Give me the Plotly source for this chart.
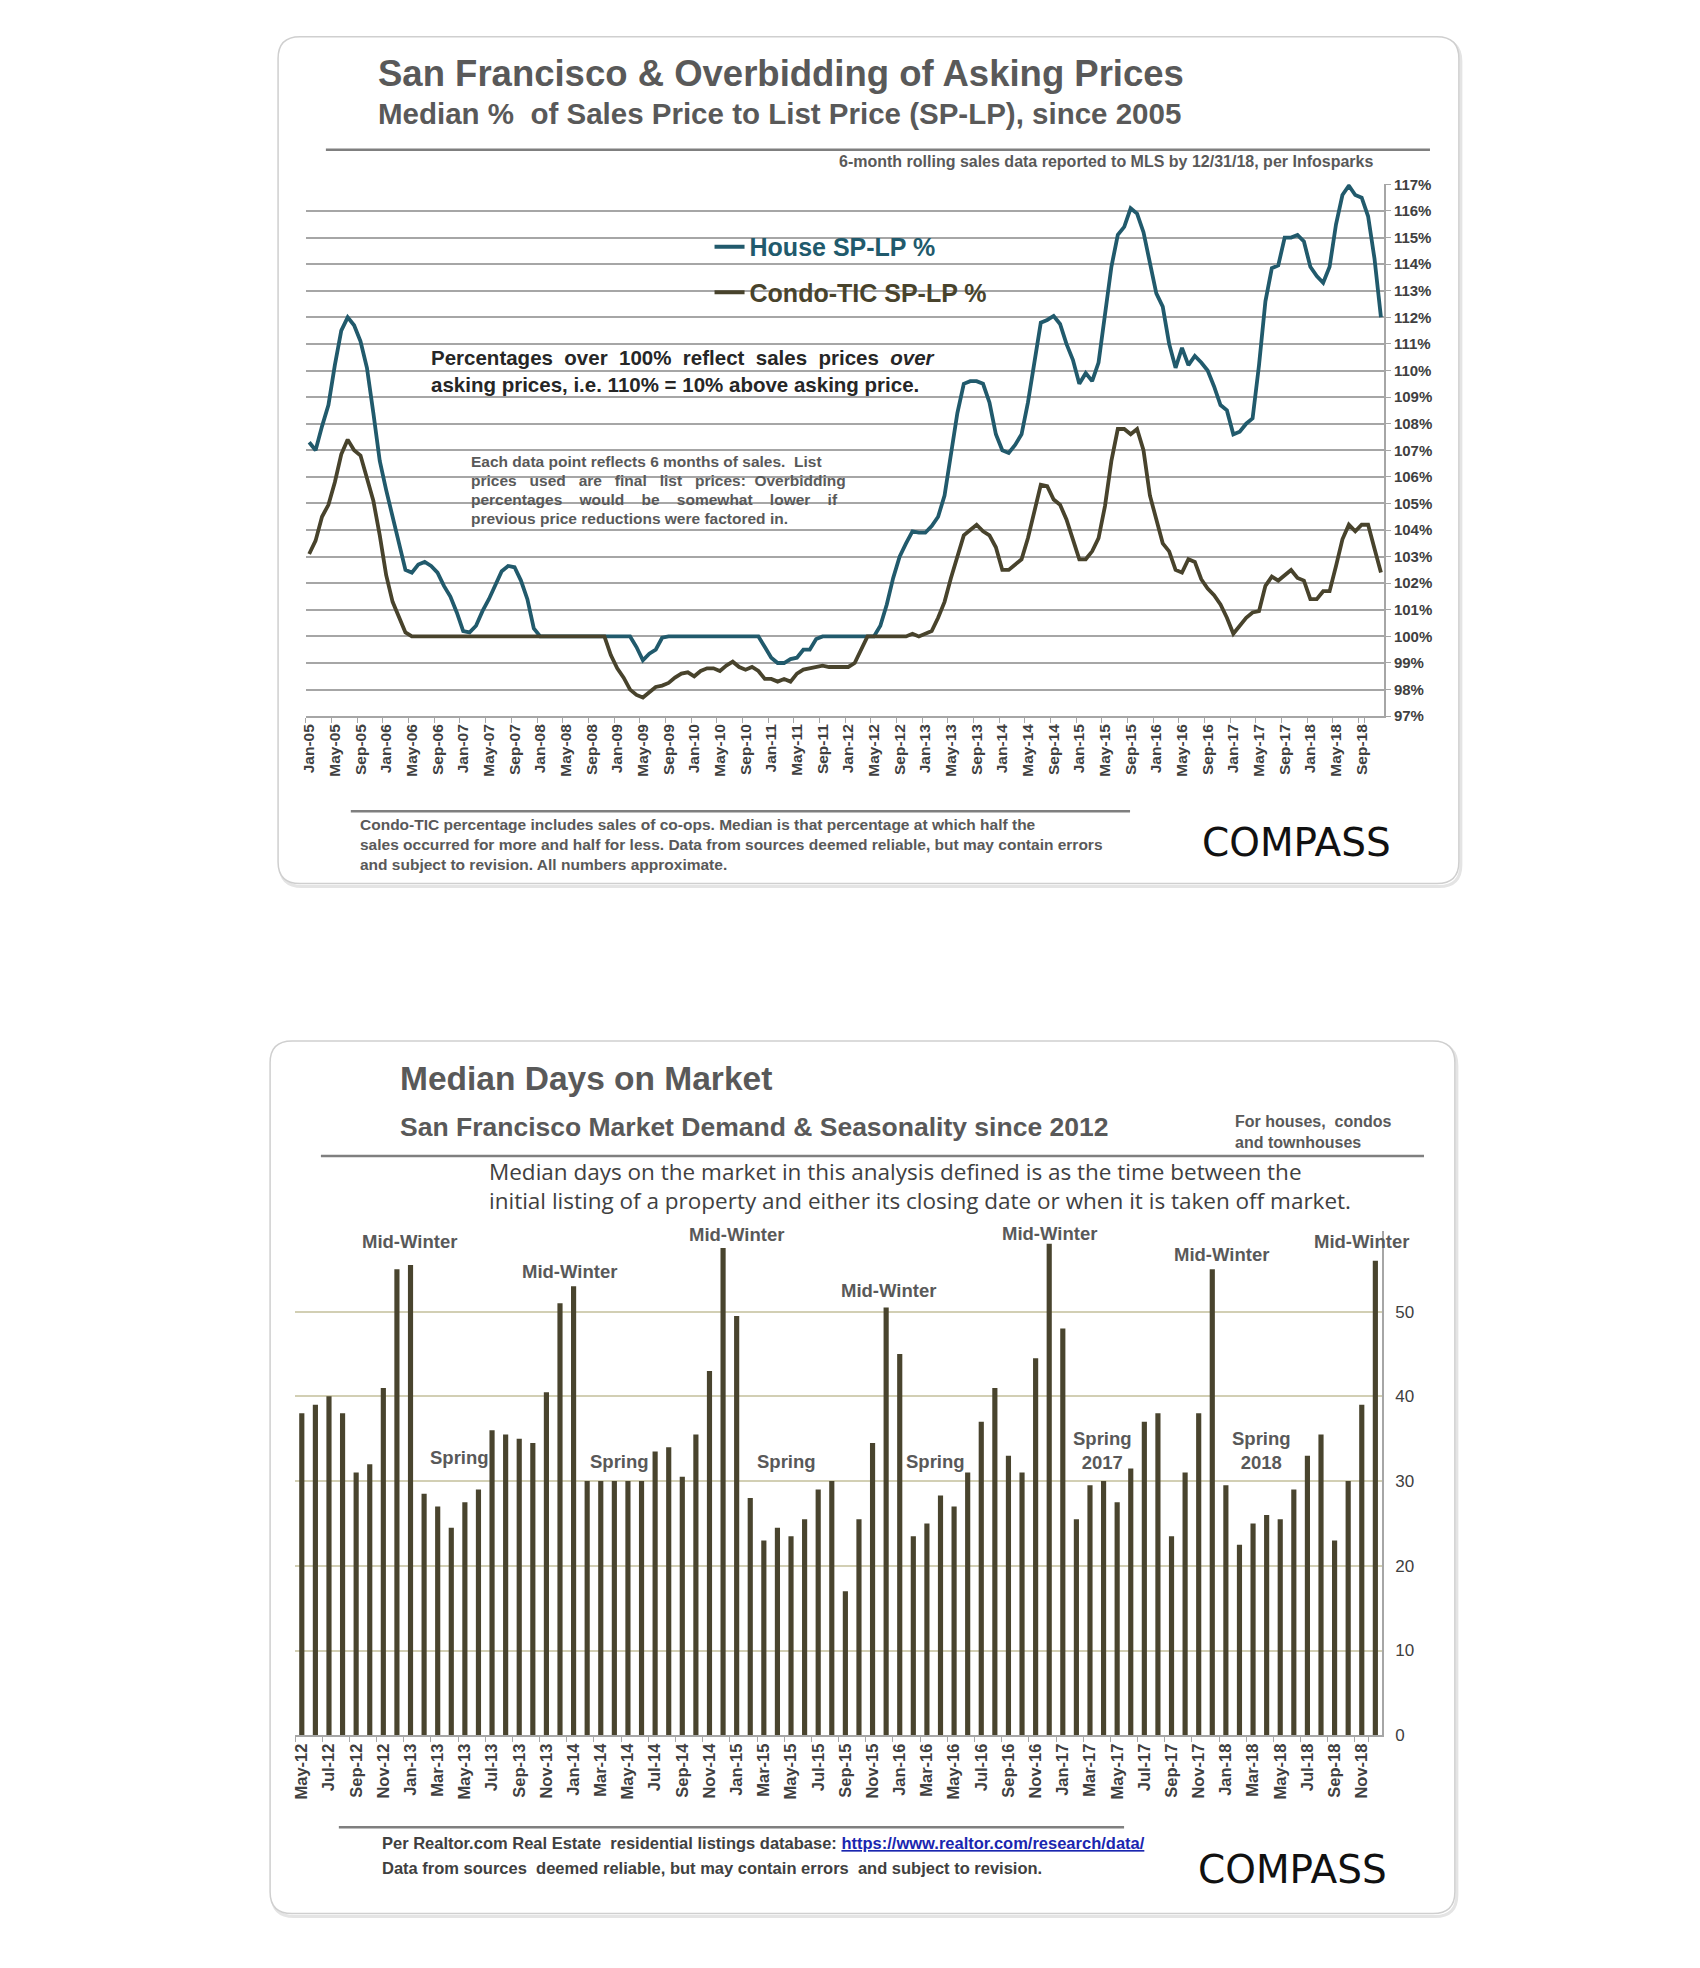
import pandas as pd
import plotly.graph_objects as go

W, H = 1700, 1968

# ---------------- DATA ----------------
months_top = list(pd.date_range("2005-01-01", periods=168, freq="MS").strftime("%b-%y"))
top_ticks = months_top[::4]

house_sp_lp = [
    107.3, 107.0, 107.9, 108.7, 110.2, 111.5, 112.0, 111.7, 111.1, 110.1, 108.4, 106.6,   # 2005
    105.5, 104.5, 103.5, 102.5, 102.4, 102.7, 102.8, 102.65, 102.4, 101.9, 101.5, 100.9,  # 2006
    100.2, 100.15, 100.4, 100.95, 101.4, 101.9, 102.45, 102.65, 102.6, 102.1, 101.4, 100.3,  # 2007
    100.0, 100.0, 100.0, 100.0, 100.0, 100.0, 100.0, 100.0, 100.0, 100.0, 100.0, 100.0,  # 2008
    100.0, 100.0, 100.0, 99.6, 99.1, 99.35, 99.5, 99.95, 100.0, 100.0, 100.0, 100.0,      # 2009
    100.0, 100.0, 100.0, 100.0, 100.0, 100.0, 100.0, 100.0, 100.0, 100.0, 100.0, 99.6,    # 2010
    99.2, 99.0, 99.0, 99.15, 99.2, 99.5, 99.5, 99.9, 100.0, 100.0, 100.0, 100.0,          # 2011
    100.0, 100.0, 100.0, 100.0, 100.0, 100.4, 101.2, 102.2, 103.0, 103.5, 103.95, 103.9,  # 2012
    103.9, 104.15, 104.5, 105.3, 106.8, 108.4, 109.5, 109.6, 109.6, 109.5, 108.8, 107.6,  # 2013
    107.0, 106.9, 107.2, 107.6, 108.8, 110.4, 111.8, 111.9, 112.05, 111.75, 111.0, 110.4,  # 2014
    109.5, 109.9, 109.6, 110.3, 112.0, 113.9, 115.1, 115.4, 116.1, 115.9, 115.2, 114.1,   # 2015
    112.9, 112.4, 111.0, 110.1, 110.85, 110.2, 110.55, 110.3, 110.0, 109.4, 108.7, 108.5,  # 2016
    107.6, 107.7, 108.0, 108.2, 110.2, 112.6, 113.85, 113.95, 115.0, 115.0, 115.1, 114.85,  # 2017
    113.9, 113.55, 113.3, 113.9, 115.5, 116.6, 116.95, 116.6, 116.5, 115.8, 114.2, 112.0,  # 2018
]

condo_tic_sp_lp = [
    103.1, 103.6, 104.5, 104.95, 105.8, 106.85, 107.4, 107.0, 106.8, 106.0, 105.1, 103.8,  # 2005
    102.3, 101.3, 100.7, 100.15, 100.0, 100.0, 100.0, 100.0, 100.0, 100.0, 100.0, 100.0,   # 2006
    100.0, 100.0, 100.0, 100.0, 100.0, 100.0, 100.0, 100.0, 100.0, 100.0, 100.0, 100.0,    # 2007
    100.0, 100.0, 100.0, 100.0, 100.0, 100.0, 100.0, 100.0, 100.0, 100.0, 100.0, 99.3,     # 2008
    98.8, 98.45, 98.0, 97.8, 97.7, 97.9, 98.1, 98.15, 98.25, 98.45, 98.6, 98.65,           # 2009
    98.5, 98.7, 98.8, 98.8, 98.7, 98.9, 99.05, 98.85, 98.75, 98.85, 98.7, 98.4,            # 2010
    98.4, 98.3, 98.4, 98.3, 98.6, 98.75, 98.8, 98.85, 98.9, 98.85, 98.85, 98.85,           # 2011
    98.85, 99.0, 99.5, 100.0, 100.0, 100.0, 100.0, 100.0, 100.0, 100.0, 100.1, 100.0,      # 2012
    100.1, 100.2, 100.7, 101.3, 102.2, 103.0, 103.8, 104.0, 104.2, 103.95, 103.8, 103.35,  # 2013
    102.5, 102.5, 102.7, 102.9, 103.7, 104.7, 105.7, 105.65, 105.15, 104.95, 104.4, 103.65,  # 2014
    102.9, 102.9, 103.2, 103.7, 104.9, 106.6, 107.8, 107.8, 107.6, 107.8, 107.0, 105.3,   # 2015
    104.4, 103.5, 103.2, 102.5, 102.4, 102.9, 102.8, 102.15, 101.8, 101.55, 101.2, 100.7,  # 2016
    100.1, 100.4, 100.7, 100.9, 100.95, 101.9, 102.25, 102.1, 102.3, 102.5, 102.2, 102.1,  # 2017
    101.4, 101.4, 101.7, 101.7, 102.65, 103.65, 104.2, 103.95, 104.2, 104.2, 103.3, 102.4,  # 2018
]

months_bottom = list(pd.date_range("2012-05-01", periods=80, freq="MS").strftime("%b-%y"))
bottom_ticks = months_bottom[::2]

median_dom = [
    38, 39, 40, 38, 31, 32, 41, 55, 55.5, 28.5, 27, 24.5,
    27.5, 29, 36, 35.5, 35, 34.5, 40.5, 51, 53, 30, 30, 30,
    30, 30, 33.5, 34, 30.5, 35.5, 43, 57.5, 49.5, 28, 23, 24.5,
    23.5, 25.5, 29, 30, 17, 25.5, 34.5, 50.5, 45, 23.5, 25, 28.3,
    27, 31, 37, 41, 33, 31, 44.5, 58, 48, 25.5, 29.5, 30,
    27.5, 31.5, 37, 38, 23.5, 31, 38, 55, 29.5, 22.5, 25, 26,
    25.5, 29, 33, 35.5, 23, 30, 39, 56,
]

season_labels = ["Mid-Winter", "Spring", "Mid-Winter", "Spring", "Mid-Winter", "Spring",
                 "Mid-Winter", "Spring", "Mid-Winter", "Spring<br>2017", "Mid-Winter",
                 "Spring<br>2018", "Mid-Winter"]
season_x = [7.9, 11.6, 19.7, 23.4, 32.0, 35.7, 43.2, 46.6, 55.0, 58.9, 67.7, 70.6, 78.0]
season_y = [58.3, 32.8, 54.7, 32.3, 59.1, 32.3, 52.5, 32.3, 59.2, 33.6, 56.7, 33.6, 58.3]

# ---------------- STYLE ----------------
FONT = "Liberation Sans, Arial, sans-serif"
HOUSE_C = "#215a6c"
CONDO_C = "#48432c"
BAR_C = "#49442e"
GRAY = "#595959"
DARK = "#404040"


def X(x):
    return x / W


def Y(y):
    return 1 - y / H


def rrect(x0, y0, x1, y1, r):
    p = (f"M {X(x0+r)},{Y(y0)} L {X(x1-r)},{Y(y0)} Q {X(x1)},{Y(y0)} {X(x1)},{Y(y0+r)} "
         f"L {X(x1)},{Y(y1-r)} Q {X(x1)},{Y(y1)} {X(x1-r)},{Y(y1)} "
         f"L {X(x0+r)},{Y(y1)} Q {X(x0)},{Y(y1)} {X(x0)},{Y(y1-r)} "
         f"L {X(x0)},{Y(y0+r)} Q {X(x0)},{Y(y0)} {X(x0+r)},{Y(y0)} Z")
    return p


fig = go.Figure()

fig.add_trace(go.Scatter(
    x=months_top, y=house_sp_lp, mode="lines",
    line=dict(color=HOUSE_C, width=3.8),
    name=f"<b><span style='color:{HOUSE_C}'>House SP-LP %</span></b>",
    legendgroup="a", xaxis="x", yaxis="y"))
fig.add_trace(go.Scatter(
    x=months_top, y=condo_tic_sp_lp, mode="lines",
    line=dict(color=CONDO_C, width=3.8),
    name=f"<b><span style='color:{CONDO_C}'>Condo-TIC SP-LP %</span></b>",
    legendgroup="b", xaxis="x", yaxis="y"))

fig.add_trace(go.Bar(
    x=months_bottom, y=median_dom, marker=dict(color=BAR_C, line=dict(width=0)),
    showlegend=False, xaxis="x2", yaxis="y2"))

shapes = []
# cards (soft shadow + border)
for (x0, y0, x1, y1) in [(265, 20, 1450, 875), (257, 1034, 1446, 1915)]:
    shapes.append(dict(type="path", path=rrect(x0 + 2, y0 + 3, x1 + 2, y1 + 3, 22), xref="paper",
                       yref="paper", line=dict(color="#e4e4e4", width=3),
                       fillcolor="rgba(0,0,0,0)", layer="below"))
    shapes.append(dict(type="path", path=rrect(x0, y0, x1, y1, 22), xref="paper", yref="paper",
                       line=dict(color="#cfcfcf", width=1.5), fillcolor="white", layer="below"))
# rules
for (x0, x1, y) in [(313, 1421, 134), (338, 1120, 802), (308, 1415, 1150), (326, 1114, 1828)]:
    shapes.append(dict(type="line", xref="paper", yref="paper", x0=X(x0), x1=X(x1), y0=Y(y), y1=Y(y),
                       line=dict(color="#7f7f7f", width=2.5)))
# white box behind the note (covers gridlines)
shapes.append(dict(type="rect", xref="paper", yref="y", x0=X(450), x1=X(866), y0=103.55, y1=107.45,
                   fillcolor="white", line=dict(width=0), layer="between"))

annotations = []


def ann(text, x, y, size, color=GRAY, xanchor="left", yanchor="middle", bold=False, family=FONT,
        align="left"):
    if bold:
        text = f"<b>{text}</b>"
    annotations.append(dict(text=text, x=X(x), y=Y(y), xref="paper", yref="paper",
                            xanchor=xanchor, yanchor=yanchor, showarrow=False, align=align,
                            font=dict(size=size, color=color, family=family)))


# top card texts
ann("San Francisco &amp; Overbidding of Asking Prices", 363, 57, 36.5, bold=True)
ann("Median %  of Sales Price to List Price (SP-LP), since 2005", 363, 97, 29.5, bold=True)
ann("6-month rolling sales data reported to MLS by 12/31/18, per Infosparks", 1366, 146, 16,
    color=GRAY, xanchor="right", bold=True)
ann("Percentages  over  100%  reflect  sales  prices  <i>over</i><br>asking prices, i.e. 110% = 10% above asking price.",
    416, 357, 20.5, color="#262626", bold=True)
note_lines = ["Each data point reflects 6 months of sales.  List",
              "prices   used   are   final   list   prices:  Overbidding",
              "percentages    would    be    somewhat    lower    if",
              "previous price reductions were factored in."]
for i, t in enumerate(note_lines):
    ann(t, 457, 449 + 19 * i, 15.5, color=GRAY, bold=True)
ann("Condo-TIC percentage includes sales of co-ops. Median is that percentage at which half the<br>"
    "sales occurred for more and half for less. Data from sources deemed reliable, but may contain errors<br>"
    "and subject to revision. All numbers approximate.", 345, 836, 15.5, color=GRAY, bold=True)
ann("COMPASS", 1287, 834, 39, color="#111111", xanchor="center", family="DejaVu Sans, sans-serif")

# bottom card texts
ann("Median Days on Market", 385, 1072, 33.5, bold=True)
ann("San Francisco Market Demand &amp; Seasonality since 2012", 385, 1121, 26.5, bold=True)
ann("For houses,  condos<br>and townhouses", 1223, 1126, 16, color=GRAY, bold=True)
ann("Median days on the market in this analysis defined is as the time between the<br>"
    "initial listing of a property and either its closing date or when it is taken off market.",
    475, 1180, 22.5, color=DARK, family="Open Sans, Lato, sans-serif")
ann("Per Realtor.com Real Estate  residential listings database: "
    "<span style='color:#1a26b0'><u>https://www.realtor.com/research/data/</u></span>",
    367, 1844, 16.5, color=DARK, bold=True)
ann("Data from sources  deemed reliable, but may contain errors  and subject to revision.",
    367, 1869, 16.5, color=DARK, bold=True)
ann("COMPASS", 1283, 1871, 39, color="#111111", xanchor="center", family="DejaVu Sans, sans-serif")

for lab, sx, sy in zip(season_labels, season_x, season_y):
    annotations.append(dict(text=f"<b>{lab}</b>", x=sx, y=sy, xref="x2", yref="y2",
                            showarrow=False, xanchor="center", yanchor="middle",
                            font=dict(size=18.5, color=GRAY, family=FONT)))

fig.update_layout(
    width=W, height=H, autosize=False,
    margin=dict(l=0, r=0, t=0, b=0),
    paper_bgcolor="white", plot_bgcolor="rgba(0,0,0,0)",
    font=dict(family=FONT),
    showlegend=True,
    legend=dict(x=X(698), y=Y(209), xanchor="left", yanchor="top",
                font=dict(size=25, family=FONT), bgcolor="rgba(0,0,0,0)",
                tracegroupgap=10, itemwidth=30),
    bargap=0.62,
    xaxis=dict(domain=[X(293), X(1375)], anchor="y", type="category",
               range=[-0.5, len(months_top) - 0.5],
               tickmode="array", tickvals=top_ticks, ticktext=top_ticks, tickangle=-90,
               tickson="boundaries", ticks="outside", ticklen=5, tickcolor="#a6a6a6",
               showline=True, linecolor="#a6a6a6", linewidth=1.5, showgrid=False,
               tickfont=dict(size=15.5, color=DARK, family=FONT, weight="bold")),
    yaxis=dict(domain=[Y(706), Y(169)], anchor="x", side="right",
               range=[97, 117], dtick=1, ticksuffix="%",
               showgrid=True, gridcolor="#a6a6a6", gridwidth=1.5,
               showline=True, linecolor="#a6a6a6", linewidth=1.5,
               ticks="outside", ticklen=5, tickcolor="#a6a6a6",
               zeroline=False, tickfont=dict(size=15, color=DARK, family=FONT, weight="bold")),
    xaxis2=dict(domain=[X(282), X(1373)], anchor="y2", type="category",
                range=[-0.5, len(months_bottom) - 0.5],
                tickmode="array", tickvals=bottom_ticks, ticktext=bottom_ticks, tickangle=-90,
                tickson="boundaries", ticks="outside", ticklen=5, tickcolor="#a6a6a6",
                showline=True, linecolor="#a6a6a6", linewidth=1.5, showgrid=False,
                tickfont=dict(size=16.5, color=DARK, family=FONT, weight="bold")),
    yaxis2=dict(domain=[Y(1735), Y(1226)], anchor="x2", side="right",
                range=[0, 59.5], dtick=10,
                showgrid=True, gridcolor="#d2cfb4", gridwidth=1.5,
                showline=True, linecolor="#a6a6a6", linewidth=1.5,
                ticks="outside", ticklen=8, tickcolor="rgba(0,0,0,0)",
                zeroline=False, tickfont=dict(size=17, color=DARK, family=FONT)),
    shapes=shapes,
    annotations=annotations,
)

fig.write_html("out.html")
